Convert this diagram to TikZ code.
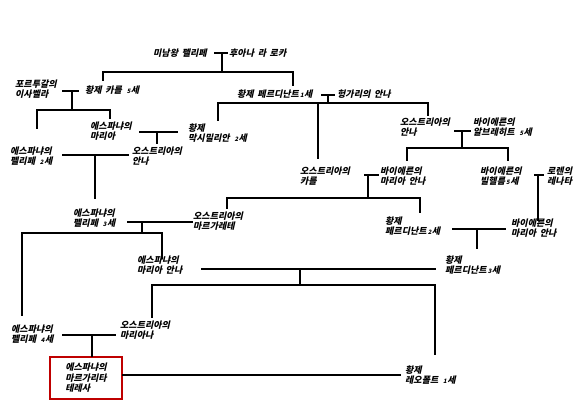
\documentclass[tikz,border=0pt]{standalone}
\usepackage{fontspec}
\setmainfont{Noto Sans CJK KR}[FakeSlant=0.22, WordSpace=1.8, BoldFeatures={FakeSlant=0.22}]
\newcommand{\sm}[1]{\kern1.2pt{\fontsize{6}{6}\selectfont #1}\kern0.4pt}
\begin{document}
\begin{tikzpicture}[x=1pt,y=-1pt,
  lbl/.style={anchor=west, inner sep=0pt, align=left, font=\fontsize{9}{10.5}\selectfont\bfseries},
  ln/.style={line width=1.7pt, line cap=rect},
  hl/.style={draw=red!75!black, line width=1.4pt, minimum width=72pt, minimum height=42pt, align=left, inner sep=0pt, font=\fontsize{9}{10.5}\selectfont\bfseries}]
\useasboundingbox[fill=white] (0,0) rectangle (583,406);
% people
\node[lbl] (phil1) at (153,53) {미남왕 펠리페};
\node[lbl] (juana) at (229,53) {후아나 라 로카};
\node[lbl] (isabel) at (15,89) {포르투갈의\\이사벨라};
\node[lbl] (karl5) at (85,90) {황제 카를 \sm{5}세};
\node[lbl] (ferd1) at (237,94) {황제 페르디난트\sm{1}세};
\node[lbl] (annah) at (337,94) {헝가리의 안나};
\node[lbl] (maria) at (90,131) {에스파냐의\\마리아};
\node[lbl] (max2) at (188,133) {황제\\막시밀리안 \sm{2}세};
\node[lbl] (phil2) at (10,156) {에스파냐의\\펠리페 \sm{2}세};
\node[lbl] (annaa) at (132,156) {오스트리아의\\안나};
\node[lbl] (annab) at (400,127) {오스트리아의\\안나};
\node[lbl] (albrecht) at (473,127) {바이에른의\\알브레히트 \sm{5}세};
\node[lbl] (karla) at (300,176) {오스트리아의\\카를};
\node[lbl] (mab) at (380,176) {바이에른의\\마리아 안나};
\node[lbl] (wilhelm) at (480,176) {바이에른의\\빌헬름\sm{5}세};
\node[lbl] (renata) at (547,176) {로렌의\\레나타};
\node[lbl] (phil3) at (73,218) {에스파냐의\\펠리페 \sm{3}세};
\node[lbl] (marg) at (193,221) {오스트리아의\\마르가레테};
\node[lbl] (ferd2) at (385,226) {황제\\페르디난트\sm{2}세};
\node[lbl] (mab2) at (511,228) {바이에른의\\마리아 안나};
\node[lbl] (ferd3) at (445,265) {황제\\페르디난트\sm{3}세};
\node[lbl] (mas) at (137,265) {에스파냐의\\마리아 안나};
\node[lbl] (phil4) at (11,334) {에스파냐의\\펠리페 \sm{4}세};
\node[lbl] (mariana) at (120,330) {오스트리아의\\마리아나};
\node[hl] (mt) at (86,378) {에스파냐의\\마르가리타\\테레사};
\node[lbl] (leopold) at (405,375) {황제\\레오폴트 \sm{1}세};
% junction points
\coordinate (a1) at (215,53); \coordinate (a2) at (227,53);
\coordinate (a3) at (222,53); \coordinate (a4) at (222,72);
\coordinate (a5) at (103,80); \coordinate (a6) at (103,72);
\coordinate (a7) at (293,72); \coordinate (a8) at (293,85);
\coordinate (b1) at (63,91); \coordinate (b2) at (78,91);
\coordinate (b3) at (72,91); \coordinate (b4) at (72,110);
\coordinate (b5) at (37,128); \coordinate (b6) at (37,110);
\coordinate (b7) at (110,110); \coordinate (b8) at (110,118);
\coordinate (c1) at (140,132); \coordinate (c2) at (177,132);
\coordinate (c3) at (157,132); \coordinate (c4) at (157,143);
\coordinate (d1) at (63,155); \coordinate (d2) at (128,155);
\coordinate (d3) at (95,155); \coordinate (d4) at (95,198);
\coordinate (e1) at (322,95); \coordinate (e2) at (334,95);
\coordinate (e3) at (328,95); \coordinate (e4) at (328,103);
\coordinate (e5) at (218,120); \coordinate (e6) at (218,103);
\coordinate (e7) at (428,103); \coordinate (e8) at (428,115);
\coordinate (e9) at (318,103); \coordinate (e10) at (318,158);
\coordinate (f1) at (455,131); \coordinate (f2) at (470,131);
\coordinate (f3) at (462,131); \coordinate (f4) at (462,148);
\coordinate (f5) at (407,160); \coordinate (f6) at (407,148);
\coordinate (f7) at (508,148); \coordinate (f8) at (508,160);
\coordinate (g1) at (365,175); \coordinate (g2) at (378,175);
\coordinate (g3) at (368,175); \coordinate (g4) at (368,198);
\coordinate (g5) at (227,208); \coordinate (g6) at (227,198);
\coordinate (g7) at (420,198); \coordinate (g8) at (420,212);
\coordinate (h1) at (535,175); \coordinate (h2) at (543,175);
\coordinate (h3) at (538,175); \coordinate (h4) at (538,220);
\coordinate (i1) at (128,222); \coordinate (i2) at (192,222);
\coordinate (i3) at (142,222); \coordinate (i4) at (142,233);
\coordinate (i5) at (22,315); \coordinate (i6) at (22,233);
\coordinate (i7) at (162,233); \coordinate (i8) at (162,258);
\coordinate (k1) at (453,229); \coordinate (k2) at (505,229);
\coordinate (k3) at (477,229); \coordinate (k4) at (477,248);
\coordinate (l1) at (202,269); \coordinate (l2) at (435,269);
\coordinate (l3) at (300,269); \coordinate (l4) at (300,285);
\coordinate (l5) at (152,317); \coordinate (l6) at (152,285);
\coordinate (l7) at (435,285); \coordinate (l8) at (435,354);
\coordinate (n1) at (63,335); \coordinate (n2) at (115,335);
\coordinate (n3) at (92,335);
\coordinate (o1) at (400,375);
% connectors
\draw[ln] (a1) -- (a2); \draw[ln] (a3) -- (a4);
\draw[ln] (a5) -- (a6) -- (a7) -- (a8);
\draw[ln] (b1) -- (b2); \draw[ln] (b3) -- (b4);
\draw[ln] (b5) -- (b6) -- (b7) -- (b8);
\draw[ln] (c1) -- (c2); \draw[ln] (c3) -- (c4);
\draw[ln] (d1) -- (d2); \draw[ln] (d3) -- (d4);
\draw[ln] (e1) -- (e2); \draw[ln] (e3) -- (e4);
\draw[ln] (e5) -- (e6) -- (e7) -- (e8); \draw[ln] (e9) -- (e10);
\draw[ln] (f1) -- (f2); \draw[ln] (f3) -- (f4);
\draw[ln] (f5) -- (f6) -- (f7) -- (f8);
\draw[ln] (g1) -- (g2); \draw[ln] (g3) -- (g4);
\draw[ln] (g5) -- (g6) -- (g7) -- (g8);
\draw[ln] (h1) -- (h2); \draw[ln] (h3) -- (h4);
\draw[ln] (i1) -- (i2); \draw[ln] (i3) -- (i4);
\draw[ln] (i5) -- (i6) -- (i7) -- (i8);
\draw[ln] (k1) -- (k2); \draw[ln] (k3) -- (k4);
\draw[ln] (l1) -- (l2); \draw[ln] (l3) -- (l4);
\draw[ln] (l5) -- (l6) -- (l7) -- (l8);
\draw[ln] (n1) -- (n2); \draw[ln] (n3) -- (n3 |- mt.north);
\draw[ln] (o1 -| mt.east) -- (o1);
\end{tikzpicture}
\end{document}
